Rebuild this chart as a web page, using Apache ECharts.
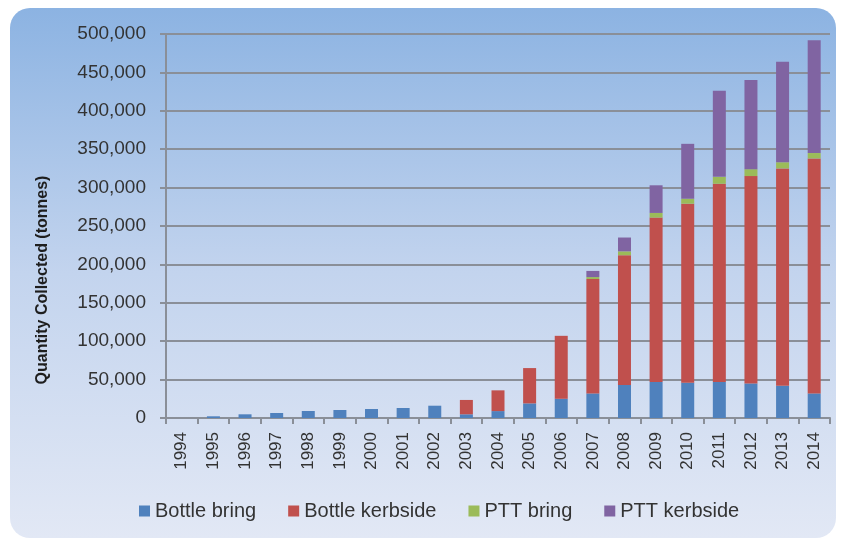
<!DOCTYPE html>
<html>
<head>
<meta charset="utf-8">
<script src="https://cdn.jsdelivr.net/npm/echarts@6/dist/echarts.min.js"></script>
<style>
  html, body { margin: 0; padding: 0; background: #fff; }
  #chart { width: 844px; height: 540px; }
</style>
</head>
<body>
<div id="chart"></div>
<script>
// years on the x axis
const years = ['1994', '1995', '1996', '1997', '1998', '1999', '2000', '2001', '2002', '2003', '2004',
  '2005', '2006', '2007', '2008', '2009', '2010', '2011', '2012', '2013', '2014'];

// tonnes collected
const bottleBring = [0, 2200, 4800, 6500, 9100, 10400, 11700, 13000, 16000, 4800, 9000,
  19000, 25000, 32000, 43000, 47000, 46000, 47000, 45000, 42000, 32000];
const bottleKerbside = [0, 0, 0, 0, 0, 0, 0, 0, 0, 18700, 27000,
  46000, 82000, 149000, 169000, 214000, 233000, 258000, 270000, 283000, 306000];
const pttBring = [0, 0, 0, 0, 0, 0, 0, 0, 0, 0, 0,
  0, 0, 2500, 5000, 6000, 6500, 9000, 9000, 8000, 7000];
const pttKerbside = [0, 0, 0, 0, 0, 0, 0, 0, 0, 0, 0,
  0, 0, 8000, 18000, 36000, 71500, 112000, 116000, 131000, 147000];

const seriesNames = ['Bottle bring', 'Bottle kerbside', 'PTT bring', 'PTT kerbside'];
const seriesColors = ['#4f81bd', '#c0504d', '#9bbb59', '#8064a2'];
const seriesData = [bottleBring, bottleKerbside, pttBring, pttKerbside];

const font = "'Liberation Sans', Arial, sans-serif";
const textColor = '#333333';
const lineColor = '#8a8f98';

const chart = echarts.init(document.getElementById('chart'));

const option = {
  backgroundColor: '#ffffff',
  animation: false,
  graphic: [
    {
      type: 'rect',
      z: -100,
      shape: { x: 10, y: 8, width: 826, height: 530, r: 20 },
      style: {
        fill: new echarts.graphic.LinearGradient(0, 0, 0, 1, [
          { offset: 0, color: '#8cb3e2' },
          { offset: 0.5, color: '#c3d4ee' },
          { offset: 1, color: '#e2e8f5' }
        ])
      },
      silent: true
    },
    {
      type: 'text',
      x: 43,
      y: 280,
      rotation: Math.PI / 2,
      style: {
        text: 'Quantity Collected (tonnes)',
        fill: '#1e1e1e',
        font: "bold 16px 'Liberation Sans', Arial, sans-serif",
        align: 'center',
        verticalAlign: 'middle'
      }
    }
  ],
  grid: { left: 166, right: 14, top: 34, bottom: 122 },
  legend: {
    data: seriesNames,
    bottom: 14,
    left: 134,
    itemWidth: 11,
    itemHeight: 11,
    itemGap: 32,
    icon: 'rect',
    textStyle: { fontFamily: font, fontSize: 20, color: textColor }
  },
  xAxis: {
    type: 'category',
    data: years,
    axisLine: { lineStyle: { color: lineColor, width: 2 } },
    axisTick: { show: true, length: 6, lineStyle: { color: lineColor, width: 2 } },
    axisLabel: { rotate: 90, margin: 14, fontFamily: font, fontSize: 17, color: textColor }
  },
  yAxis: {
    type: 'value',
    min: 0,
    max: 500000,
    interval: 50000,
    axisLine: { show: true, lineStyle: { color: lineColor, width: 2 } },
    axisTick: { show: true, length: 6, lineStyle: { color: lineColor, width: 2 } },
    splitLine: { lineStyle: { color: lineColor, width: 2 } },
    axisLabel: {
      margin: 20,
      fontFamily: font,
      fontSize: 19,
      color: textColor,
      formatter: v => v.toLocaleString('en-US')
    }
  },
  series: seriesNames.map((name, i) => ({
    name: name,
    type: 'bar',
    stack: 'total',
    barWidth: 13,
    itemStyle: { color: seriesColors[i] },
    data: seriesData[i]
  }))
};

chart.setOption(option);
</script>
</body>
</html>
